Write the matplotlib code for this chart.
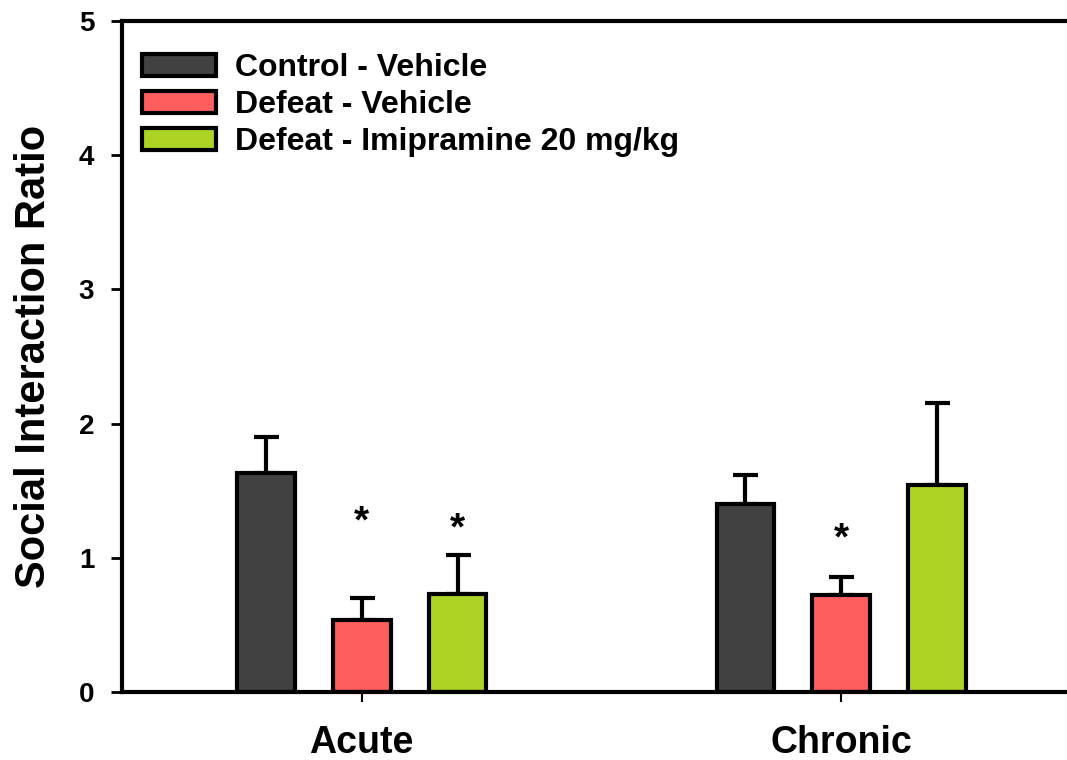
import numpy as np
import matplotlib.pyplot as plt

plt.rcParams['font.family'] = ['Liberation Sans', 'DejaVu Sans']
plt.rcParams['font.weight'] = 'bold'

groups = ['Acute', 'Chronic']
series = ['Control - Vehicle', 'Defeat - Vehicle', 'Defeat - Imipramine 20 mg/kg']
colors = ['#414141', '#FF5E5E', '#ADD424']
means = [[1.63, 1.40],
         [0.54, 0.72],
         [0.73, 1.54]]
sems = [[0.27, 0.22],
        [0.16, 0.14],
        [0.29, 0.61]]
# asterisks: (group, series, height)
stars = [(0, 1, 1.19), (0, 2, 1.14), (1, 1, 1.06)]

fig = plt.figure(figsize=(10.67, 7.6), dpi=100)
ax = fig.add_axes([122/1067, 68/760, 959/1067, 671/760])

x = np.arange(len(groups))
off = 0.2
w = 0.12
for i in range(len(series)):
    ax.bar(x + (i-1)*off, means[i], w, color=colors[i], edgecolor='black',
           linewidth=3, label=series[i], zorder=2)
    ax.errorbar(x + (i-1)*off, means[i], yerr=[np.zeros(2), sems[i]], fmt='none',
                ecolor='black', elinewidth=3, capsize=9, capthick=3, zorder=1)

for g, s, h in stars:
    ax.text(x[g] + (s-1)*off, h, '*', ha='center', va='baseline', fontsize=28)

ax.set_xlim(-0.5, 1.5)
ax.set_ylim(0, 5)
ax.set_xticks(x)
ax.set_xticklabels(groups, fontsize=27, fontweight='bold')
ax.set_yticks(range(6))
ax.tick_params(axis='y', labelsize=20, width=2, length=8, direction='out', pad=12)
ax.tick_params(axis='x', width=1.5, length=7, direction='out', pad=17)
ax.set_ylabel('Social Interaction Ratio', fontsize=30, fontweight='bold', labelpad=18)

for s in ['left', 'bottom', 'top']:
    ax.spines[s].set_linewidth(3)
ax.spines['right'].set_visible(False)

leg = ax.legend(loc='upper left', bbox_to_anchor=(0.021, 0.952), frameon=False,
                fontsize=23, handlelength=2.3, handleheight=0.65, borderaxespad=0,
                borderpad=0, labelspacing=0.22, handletextpad=0.6)

fig.savefig('out.png')
